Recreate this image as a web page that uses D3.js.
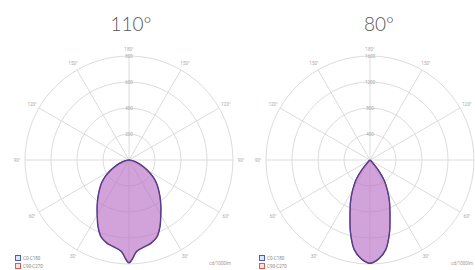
<!DOCTYPE html>
<html>
<head>
<meta charset="utf-8">
<script src="https://cdn.jsdelivr.net/npm/d3@7/dist/d3.min.js"></script>
<style>
html,body{margin:0;padding:0;background:#fff;}
svg{display:block;}
</style>
</head>
<body>
<svg id="c" width="475" height="270"></svg>
<script>
// ---- data ----
const titles = ["110°", "80°"];
const gammas = [0, 5, 10, 15, 20, 25, 30, 35, 40, 45, 50, 55, 60, 65, 70, 75, 80, 85, 90];
// chart 1 (110°), cd/1000lm
const wide_C0C180  = [792, 705, 680, 662, 630, 565, 490, 428, 372, 322, 276, 226, 172, 122, 82, 50, 25, 8, 0];
const wide_C90C270 = [788, 702, 676, 658, 626, 562, 487, 425, 369, 319, 273, 223, 169, 120, 80, 48, 24, 7, 0];
// chart 2 (80°)
const narrow_C0C180  = [1590, 1530, 1400, 1160, 900, 710, 535, 380, 175, 40, 8, 0, 0, 0, 0, 0, 0, 0, 0];
const narrow_C90C270 = [1585, 1525, 1395, 1155, 895, 706, 531, 376, 172, 38, 7, 0, 0, 0, 0, 0, 0, 0, 0];
const ringTicks = [[200, 400, 600, 800], [400, 800, 1200, 1600]];
const angleLabels = [180, 150, 120, 90, 60, 30];
const legendLabels = ["C0-C180", "C90-C270"];
const unitLabel = "cd/1000lm";

const charts = [
  {title: titles[0], a: wide_C0C180, b: wide_C90C270, ticks: ringTicks[0]},
  {title: titles[1], a: narrow_C0C180, b: narrow_C90C270, ticks: ringTicks[1]}
];

const W = 475;
const svg = d3.select("#c");
const R = 104;
const centers = [{x: 129, y: 160, tx: 131, lx: 15, ux: 220}, {x: 370, y: 160, tx: 379, lx: 259, ux: 462}];

charts.forEach((ch, i) => {
  const c = centers[i];
  const g = svg.append("g").attr("transform", `translate(${c.x},${c.y})`);
  const rScale = d3.scaleLinear().domain([0, ch.ticks[ch.ticks.length - 1]]).range([0, R]);

  // grid circles
  g.selectAll("circle.ring").data(ch.ticks).join("circle")
    .attr("r", d => rScale(d)).attr("fill", "none")
    .attr("stroke", "#dcdcdc").attr("stroke-width", 1);
  // spokes
  const spokeAngles = d3.range(0, 180, 30);
  g.selectAll("line.spoke").data(spokeAngles).join("line")
    .attr("x1", d => -R * Math.sin(d * Math.PI / 180))
    .attr("y1", d => R * Math.cos(d * Math.PI / 180))
    .attr("x2", d => R * Math.sin(d * Math.PI / 180))
    .attr("y2", d => -R * Math.cos(d * Math.PI / 180))
    .attr("stroke", "#dcdcdc").attr("stroke-width", 1);

  // angle labels (only those that fall inside the picture)
  const lblR = R + 8;
  const angs = [];
  angleLabels.forEach(a => {
    if (a === 180) angs.push({a, side: 0});
    else { angs.push({a, side: 1}); angs.push({a, side: -1}); }
  });
  const visAngs = angs.filter(d => c.x + d.side * lblR * Math.sin(d.a * Math.PI / 180) + 6 < W);
  g.selectAll("text.ang").data(visAngs).join("text")
    .attr("x", d => d.side * lblR * Math.sin(d.a * Math.PI / 180))
    .attr("y", d => (d.a === 180 ? -R - 5 : lblR * Math.cos(d.a * Math.PI / 180) + 1.5))
    .attr("text-anchor", "middle")
    .attr("font-family", "Roboto, sans-serif").attr("font-size", 4.5)
    .attr("fill", "#aaa").text(d => d.a + "°");

  // ring labels
  g.selectAll("text.tick").data(ch.ticks).join("text")
    .attr("x", 0).attr("y", d => -rScale(d) + 1.6)
    .attr("text-anchor", "middle")
    .attr("font-family", "Roboto, sans-serif").attr("font-size", 4.5)
    .attr("fill", "#aaa").text(d => d);

  // curves
  const line = d3.lineRadial().curve(d3.curveCatmullRomClosed.alpha(0.5));
  function pts(vals) {
    const right = gammas.map((gm, k) => [Math.PI - gm * Math.PI / 180, rScale(vals[k])]).reverse();
    const left = gammas.slice(1).map((gm, k) => [Math.PI + gm * Math.PI / 180, rScale(vals[k + 1])]);
    return right.concat(left);
  }
  g.append("path").attr("d", line(pts(ch.b)))
    .attr("fill", "rgba(200,110,190,0.55)").attr("stroke", "#b0507a").attr("stroke-width", 1.2);
  g.append("path").attr("d", line(pts(ch.a)))
    .attr("fill", "rgba(160,120,215,0.22)").attr("stroke", "#4e3c8e").attr("stroke-width", 1.3);

  // title
  svg.append("text").attr("x", c.tx).attr("y", 31).attr("text-anchor", "middle")
    .attr("font-family", "Lato, sans-serif").attr("font-weight", 300)
    .attr("font-size", 19).attr("fill", "#555").text(ch.title);

  // legend
  const lg = svg.append("g").attr("transform", `translate(${c.lx},255)`);
  const lcol = [{s: "#4a5ec0", f: "#dfe3f7"}, {s: "#e05a5a", f: "#fbe0e0"}];
  legendLabels.forEach((t, k) => {
    lg.append("rect").attr("x", 0.5).attr("y", k * 8 + 0.5).attr("width", 5).attr("height", 5)
      .attr("fill", lcol[k].f).attr("stroke", lcol[k].s).attr("stroke-width", 1);
    lg.append("text").attr("x", 8).attr("y", k * 8 + 5).attr("font-family", "Roboto, sans-serif")
      .attr("font-size", 4.5).attr("fill", "#888").text(t);
  });
  svg.append("text").attr("x", c.ux).attr("y", 265).attr("text-anchor", "middle")
    .attr("font-family", "Roboto, sans-serif").attr("font-size", 4.5).attr("fill", "#999").text(unitLabel);
});
</script>
</body>
</html>
